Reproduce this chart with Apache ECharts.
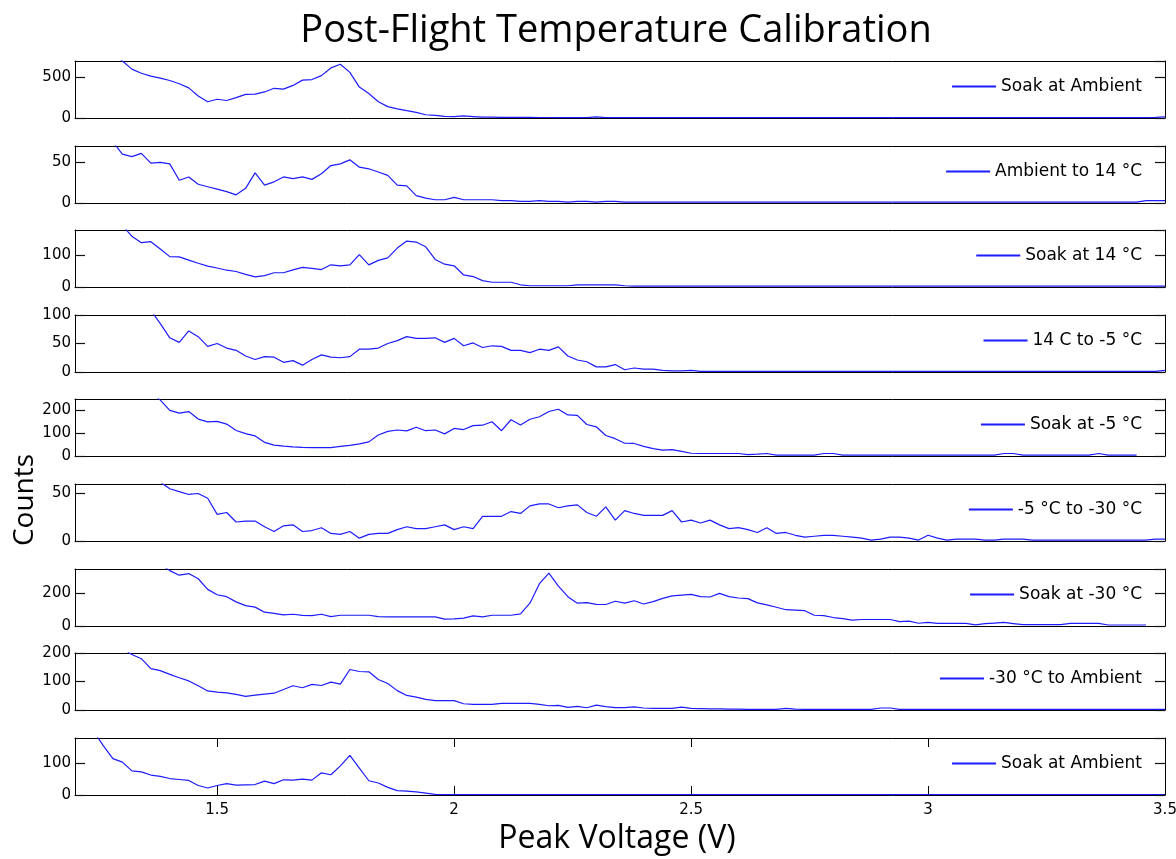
<!DOCTYPE html>
<html>
<head>
<meta charset="utf-8">
<script src="https://cdn.jsdelivr.net/npm/echarts@6/dist/echarts.min.js"></script>
<style>
  html, body { margin: 0; padding: 0; background: #fff; }
  #chart { width: 1176px; height: 859px; }
</style>
</head>
<body>
<div id="chart"></div>
<script>
// bin centres (V)
const voltage = [
  1.20, 1.22, 1.24, 1.26, 1.28, 1.30, 1.32, 1.34, 1.36, 1.38,
  1.40, 1.42, 1.44, 1.46, 1.48, 1.50, 1.52, 1.54, 1.56, 1.58,
  1.60, 1.62, 1.64, 1.66, 1.68, 1.70, 1.72, 1.74, 1.76, 1.78,
  1.80, 1.82, 1.84, 1.86, 1.88, 1.90, 1.92, 1.94, 1.96, 1.98,
  2.00, 2.02, 2.04, 2.06, 2.08, 2.10, 2.12, 2.14, 2.16, 2.18,
  2.20, 2.22, 2.24, 2.26, 2.28, 2.30, 2.32, 2.34, 2.36, 2.38,
  2.40, 2.42, 2.44, 2.46, 2.48, 2.50, 2.52, 2.54, 2.56, 2.58,
  2.60, 2.62, 2.64, 2.66, 2.68, 2.70, 2.72, 2.74, 2.76, 2.78,
  2.80, 2.82, 2.84, 2.86, 2.88, 2.90, 2.92, 2.94, 2.96, 2.98,
  3.00, 3.02, 3.04, 3.06, 3.08, 3.10, 3.12, 3.14, 3.16, 3.18,
  3.20, 3.22, 3.24, 3.26, 3.28, 3.30, 3.32, 3.34, 3.36, 3.38,
  3.40, 3.42, 3.44, 3.46, 3.48, 3.50
]

const soakAmbientA = [
  1000, 950, 900, 850, 780, 700, 600, 550, 515, 490,
  460, 420, 370, 270, 200, 230, 215, 250, 290, 293,
  320, 365, 355, 400, 465, 472, 520, 615, 660, 560,
  380, 300, 200, 140, 112, 90, 70, 40, 33, 20,
  16, 25, 18, 10, 10, 8, 8, 7, 7, 6,
  6, 5, 5, 5, 5, 15, 5, 5, 5, 5,
  5, 5, 5, 5, 5, 5, 5, 5, 5, 5,
  5, 5, 5, 5, 5, 5, 5, 5, 5, 5,
  5, 5, 5, 5, 5, 5, 5, 5, 5, 5,
  5, 5, 5, 5, 5, 5, 5, 5, 5, 5,
  5, 5, 5, 5, 5, 5, 5, 5, 5, 5,
  5, 5, 5, 5, 8, 15
]
const ambientTo14 = [
  100, 95, 90, 85, 75, 60, 57, 61, 49, 50,
  48, 28, 32, 23, 20, 17, 14, 10, 18, 37,
  22, 26, 32, 30, 32, 29, 36, 46, 48, 53,
  44, 42, 38, 34, 22, 21, 9, 6, 4, 4,
  7, 4, 4, 4, 4, 3, 3, 2, 2, 3,
  2, 2, 1, 2, 2, 1, 2, 2, 1, 1,
  1, 1, 1, 1, 1, 1, 1, 1, 1, 1,
  1, 1, 1, 1, 1, 1, 1, 1, 1, 1,
  1, 1, 1, 1, 1, 1, 1, 1, 1, 1,
  1, 1, 1, 1, 1, 1, 1, 1, 1, 1,
  1, 1, 1, 1, 1, 1, 1, 1, 1, 1,
  1, 1, 1, 3, 3, 3
]
const soak14 = [
  300, 280, 260, 240, 220, 195, 160, 140, 143, 120,
  96, 95, 85, 75, 66, 60, 53, 49, 40, 32,
  36, 45, 45, 54, 62, 59, 55, 70, 67, 70,
  102, 70, 84, 92, 123, 145, 142, 127, 87, 72,
  67, 38, 33, 20, 15, 15, 15, 7, 4, 4,
  4, 4, 4, 7, 7, 7, 7, 7, 4, 3,
  3, 3, 3, 3, 3, 3, 3, 3, 3, 3,
  3, 3, 3, 3, 3, 3, 3, 3, 3, 3,
  3, 3, 3, 3, 3, 3, 3, 3, 3, 3,
  3, 3, 3, 3, 3, 3, 3, 3, 3, 3,
  3, 3, 3, 3, 3, 3, 3, 3, 3, 3,
  3, 3, 3, 3, 3, 3
]
const from14ToMinus5 = [
  200, 190, 180, 170, 160, 150, 140, 125, 108, 85,
  60, 52, 72, 62, 45, 50, 42, 38, 28, 22,
  27, 26, 17, 20, 12, 22, 30, 26, 25, 27,
  40, 40, 42, 50, 55, 62, 59, 59, 60, 52,
  59, 46, 51, 43, 46, 45, 38, 38, 34, 40,
  38, 44, 28, 21, 18, 9, 9, 13, 4, 7,
  5, 5, 3, 2, 2, 3, 1, 1, 1, 1,
  1, 1, 1, 1, 1, 1, 1, 1, 1, 1,
  1, 1, 1, 1, 1, 1, 1, 1, 1, 1,
  1, 1, 1, 1, 1, 1, 1, 1, 1, 1,
  1, 1, 1, 1, 1, 1, 1, 1, 1, 1,
  1, 1, 1, 1, 1, 3
]
const soakMinus5 = [
  400, 390, 380, 370, 360, 350, 330, 310, 280, 245,
  200, 188, 195, 162, 150, 152, 140, 112, 98, 88,
  60, 48, 43, 40, 38, 37, 37, 37, 42, 47,
  53, 62, 92, 108, 114, 110, 126, 111, 114, 97,
  121, 116, 133, 135, 150, 111, 159, 136, 161, 172,
  195, 205, 180, 178, 138, 128, 90, 76, 56, 55,
  42, 32, 26, 28, 20, 12, 11, 11, 11, 11,
  11, 6, 8, 11, 4, 4, 4, 4, 4, 11,
  11, 4, 4, 4, 4, 4, 4, 4, 4, 4,
  4, 4, 4, 4, 4, 4, 4, 4, 11, 11,
  4, 4, 4, 4, 4, 4, 4, 4, 11, 4,
  4, 4, 4, null, null, null
]
const minus5ToMinus30 = [
  90, 88, 86, 84, 82, 80, 76, 72, 67, 62,
  55, 52, 49, 50, 45, 28, 30, 20, 21, 21,
  15, 10, 16, 17, 10, 11, 14, 8, 7, 10,
  3, 7, 8, 8, 12, 15, 13, 13, 15, 17,
  12, 15, 13, 26, 26, 26, 31, 29, 37, 39,
  39, 35, 37, 38, 30, 26, 36, 22, 32, 29,
  27, 27, 27, 32, 20, 22, 19, 22, 17, 13,
  14, 12, 9, 14, 8, 9, 6, 4, 5, 6,
  6, 5, 4, 3, 1, 2, 4, 4, 3, 1,
  6, 3, 1, 2, 2, 2, 1, 1, 2, 2,
  2, 1, 1, 1, 1, 1, 1, 1, 1, 1,
  1, 1, 1, 1, 2, 2
]
const soakMinus30 = [
  600, 590, 580, 560, 540, 520, 490, 460, 420, 380,
  340, 312, 322, 290, 225, 192, 180, 148, 125, 116,
  85, 78, 68, 72, 65, 64, 72, 58, 66, 66,
  66, 66, 58, 56, 56, 56, 56, 56, 56, 42,
  44, 48, 62, 56, 66, 66, 66, 74, 140, 260,
  325, 245, 180, 140, 144, 133, 132, 152, 140, 155,
  135, 150, 170, 185, 190, 194, 180, 178, 200, 180,
  172, 168, 142, 130, 115, 100, 97, 94, 66, 64,
  52, 45, 36, 40, 40, 40, 40, 27, 30, 17,
  22, 16, 16, 16, 16, 7, 14, 18, 22, 15,
  8, 8, 8, 8, 8, 16, 16, 16, 16, 6,
  6, 6, 6, 6, null, null
]
const minus30ToAmbient = [
  320, 300, 280, 260, 240, 215, 195, 180, 145, 138,
  125, 113, 102, 85, 67, 63, 60, 55, 48, 52,
  56, 59, 72, 85, 78, 90, 86, 98, 91, 142,
  135, 134, 107, 93, 68, 51, 45, 37, 33, 33,
  33, 22, 20, 20, 20, 23, 23, 23, 23, 20,
  15, 16, 9, 13, 8, 17, 12, 8, 8, 11,
  7, 6, 6, 6, 10, 6, 5, 4, 4, 3,
  3, 2, 2, 2, 2, 6, 3, 2, 2, 2,
  2, 2, 2, 2, 2, 7, 7, 2, 2, 2,
  2, 2, 2, 2, 2, 2, 2, 2, 2, 2,
  2, 2, 2, 2, 2, 2, 2, 2, 2, 2,
  2, 2, 2, 2, 2, 2
]
const soakAmbientB = [
  300, 250, 200, 155, 115, 104, 76, 73, 63, 59,
  52, 49, 46, 30, 22, 30, 36, 31, 32, 33,
  44, 36, 48, 47, 50, 47, 70, 64, 92, 125,
  85, 45, 38, 24, 14, 12, 10, 6, 2, 1,
  1, 1, 1, 1, 1, 1, 1, 1, 1, 1,
  1, 1, 1, 1, 1, 1, 1, 1, 1, 1,
  1, 1, 1, 1, 1, 1, 1, 1, 1, 1,
  1, 1, 1, 1, 1, 1, 1, 1, 1, 1,
  1, 1, 1, 1, 1, 1, 1, 1, 1, 1,
  1, 1, 1, 1, 1, 1, 1, 1, 1, 1,
  1, 1, 1, 1, 1, 1, 1, 1, 1, 1,
  1, 1, 1, 1, 1, 1
]

const legendNames = [
  'Soak at Ambient', 'Ambient to 14 °C', 'Soak at 14 °C', '14 C to -5 °C',
  'Soak at -5 °C', '-5 °C to -30 °C', 'Soak at -30 °C', '-30 °C to Ambient',
  'Soak at Ambient'
]
const yMax = [700, 70, 180, 100, 250, 60, 350, 200, 180]
const yStep = [500, 50, 100, 50, 100, 50, 200, 100, 100]
// x ticks come out as 1.5, 2, 2.5, 3, 3.5 from the axis' own nice step
const xMin = 1.2
const xMax = 3.5
const counts = [
  soakAmbientA, ambientTo14, soak14, from14ToMinus5, soakMinus5,
  minus5ToMinus30, soakMinus30, minus30ToAmbient, soakAmbientB
]

const chart = echarts.init(document.getElementById('chart'))

const gridTop = 61
const gridPitch = 84.6
const gridHeight = 57
const last = counts.length - 1
const lineBlue = '#1c1cff'
const tickFont = { fontSize: 15, fontFamily: 'DejaVu Sans', color: '#000' }

let grid = [], xAxis = [], yAxis = [], series = [], legend = []
counts.forEach((vals, i) => {
    const top = Math.round(gridTop + i * gridPitch)
    grid.push({ left: 75, right: 11, top: top, height: gridHeight, outerBoundsMode: 'none' })
    // bottom and top x axes (box edges)
    ;['bottom', 'top'].forEach(pos => {
        xAxis.push({
            type: 'value',
            gridIndex: i,
            position: pos,
            min: xMin,
            max: xMax,
            axisLine: { show: true, onZero: false, lineStyle: { color: '#000', width: 1 } },
            splitLine: { show: false },
            axisTick: {
                show: i === last,
                inside: true,
                length: 9,
                lineStyle: { color: '#000', width: 1 },
            },
            axisLabel: {
                show: i === last && pos === 'bottom',
                showMinLabel: false,
                margin: 8,
                ...tickFont,
            },
        })
    })
    // left and right y axes
    ;['left', 'right'].forEach(pos => {
        yAxis.push({
            type: 'value',
            gridIndex: i,
            position: pos,
            min: 0,
            max: yMax[i],
            interval: yStep[i],
            z: 10,
            axisLine: { show: true, onZero: false, lineStyle: { color: '#000', width: 1 } },
            splitLine: { show: false },
            axisTick: {
                show: true,
                inside: true,
                length: 10,
                lineStyle: { color: '#111', width: 1.2 },
            },
            axisLabel: {
                show: pos === 'left',
                showMaxLabel: yMax[i] % yStep[i] === 0,
                margin: 4,
                ...tickFont,
            },
        })
    })
    series.push({
        name: legendNames[i],
        type: 'line',
        xAxisIndex: i * 2,
        yAxisIndex: i * 2,
        data: voltage.map((v, k) => [v, vals[k]]),
        symbol: 'none',
        clip: true,
        color: lineBlue,
        lineStyle: { width: 1.2, color: lineBlue },
    })
    legend.push({
        data: [{ name: legendNames[i], icon: 'rect' }],
        right: 34,
        top: top + 17,
        padding: 0,
        itemWidth: 44,
        itemHeight: 2,
        selectedMode: false,
        itemStyle: { color: lineBlue },
        textStyle: { fontSize: 17, fontFamily: 'DejaVu Sans', color: '#000' },
    })
})

const option = {
    animation: false,
    backgroundColor: '#fff',
    grid: grid,
    xAxis: xAxis,
    yAxis: yAxis,
    legend: legend,
    series: series,
    graphic: [
        {
            type: 'text', x: 616, y: 31,
            style: { text: 'Post-Flight Temperature Calibration', font: '38px "Open Sans"', fill: '#000', align: 'center', verticalAlign: 'middle' },
        },
        {
            type: 'text', x: 617, y: 839,
            style: { text: 'Peak Voltage (V)', font: '32px "Open Sans"', fill: '#000', align: 'center', verticalAlign: 'middle' },
        },
        {
            type: 'text', x: 25, y: 500, rotation: Math.PI / 2,
            style: { text: 'Counts', font: '28px "Open Sans"', fill: '#000', align: 'center', verticalAlign: 'middle' },
        },
    ],
}
chart.setOption(option)
</script>
</body>
</html>
